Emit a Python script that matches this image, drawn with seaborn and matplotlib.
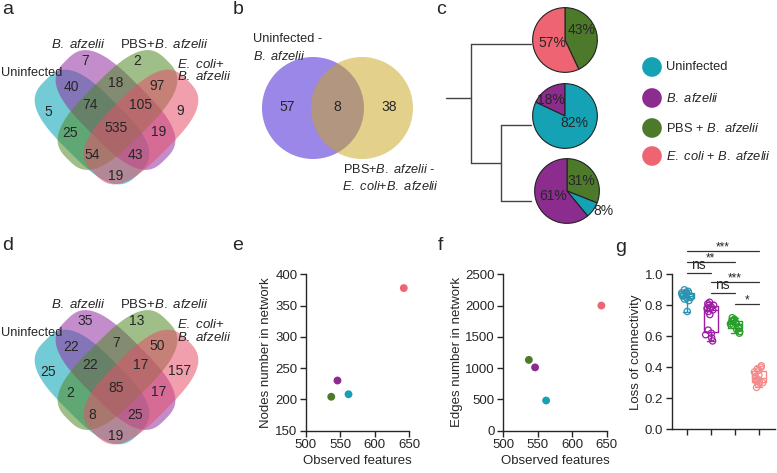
import numpy as np
import pandas as pd
import matplotlib
matplotlib.use("Agg")
import matplotlib.pyplot as plt
from matplotlib.patches import Polygon, Circle
import seaborn as sns

sns.set_style("ticks")
plt.rcParams['font.family'] = ['Liberation Sans', 'DejaVu Sans']
plt.rcParams['mathtext.fontset'] = 'custom'
plt.rcParams['mathtext.rm'] = 'Liberation Sans'
plt.rcParams['mathtext.it'] = 'Liberation Sans:italic'

# ---------------- data ----------------
groups = ["Uninfected", "B. afzelii", "PBS + B. afzelii", "E. coli + B. afzelii"]
pie_colors = ["#14a2b4", "#8c2c8e", "#4c7a2a", "#ee6472"]
venn_colors = ["#00a3b4", "#932fa3", "#508a26", "#e65069"]
box_colors = ["#2a93b3", "#9c1ea3", "#2a9e2a", "#f58a8a"]

# regions: U, B, P, E, UB, BP, PE, UBP, BPE, UP, UBPE, BE, UPE, UBE, UE
venn_a = [5, 7, 2, 9, 40, 18, 97, 74, 105, 25, 535, 19, 54, 43, 19]
venn_d = [25, 35, 13, 157, 22, 7, 50, 22, 17, 2, 85, 17, 8, 25, 19]

venn_b = [57, 8, 38]  # left only, shared, right only

pie_top = [43, 57]        # PBS + B. afzelii, E. coli + B. afzelii
pie_mid = [18, 82]        # B. afzelii, Uninfected
pie_bot = [31, 8, 61]     # PBS + B. afzelii, Uninfected, B. afzelii
dendro_heights = [1.0, 0.5]

observed = [562, 546, 537, 642]
nodes = [208, 230, 204, 378]
edges = [480, 1010, 1130, 2000]

loss_unin = [0.76, 0.83, 0.84, 0.845, 0.85, 0.86, 0.86, 0.865, 0.87, 0.875, 0.88, 0.885, 0.89, 0.90]
loss_baf = [0.57, 0.59, 0.61, 0.62, 0.64, 0.74, 0.76, 0.77, 0.78, 0.78, 0.79, 0.80, 0.80, 0.81, 0.82]
loss_pbs = [0.62, 0.63, 0.645, 0.65, 0.66, 0.67, 0.68, 0.68, 0.69, 0.70, 0.70, 0.705, 0.71, 0.72]
loss_eco = [0.27, 0.29, 0.30, 0.30, 0.31, 0.32, 0.32, 0.33, 0.34, 0.35, 0.37, 0.38, 0.39, 0.40, 0.41]
sig_pairs = [(0, 3, "***"), (0, 2, "**"), (0, 1, "ns"), (1, 3, "***"), (1, 2, "ns"), (2, 3, "*")]

# ---------------- figure ----------------
W, H = 777, 473
fig = plt.figure(figsize=(W / 100, H / 100), dpi=100)
ov = fig.add_axes([0, 0, 1, 1])
ov.set_xlim(0, W)
ov.set_ylim(H, 0)
ov.axis("off")


def px_axes(x0, y0, x1, y1):
    return fig.add_axes([x0 / W, 1 - y1 / H, (x1 - x0) / W, (y1 - y0) / H])


def blob(cx, cy, a, b, ang, n=3.0):
    t = np.linspace(0, 2 * np.pi, 240)
    c, s = np.cos(t), np.sin(t)
    u = a * np.sign(c) * np.abs(c) ** (2 / n)
    v = b * np.sign(s) * np.abs(s) ** (2 / n)
    r = np.radians(ang)
    return np.c_[cx + u * np.cos(r) - v * np.sin(r), cy + u * np.sin(r) + v * np.cos(r)]


# shape layout (pixels) and label spots for a 4-set venn
shapes = [(92, 127, 66, 45), (115.5, 110, 70, 45), (117.5, 110, 70, -45), (141, 127, 66, -45)]
spots = [(48, 112), (85, 61), (137, 61), (180, 111), (71, 87), (116, 83), (157, 86),
         (90, 105), (141, 105), (70, 133), (116, 128), (159, 132), (92, 155), (135, 155), (116, 176)]


def venn4(counts, dy):
    for (cx, cy, a, ang), col in zip(shapes, venn_colors):
        ov.add_patch(Polygon(blob(cx, cy + dy, a, 33.5, ang), closed=True,
                             facecolor=col, edgecolor="none", alpha=0.55))
    for (x, y), n in zip(spots, counts):
        ov.text(x, y + dy, str(n), ha="center", va="center", fontsize=10)
    ov.text(62, 73 + dy, "Uninfected", ha="right", va="center", fontsize=9.2)
    ov.text(78, 44 + dy, r"$\mathit{B.\ afzelii}$", ha="center", va="center", fontsize=9.5)
    ov.text(164, 44 + dy, r"PBS+$\mathit{B.\ afzelii}$", ha="center", va="center", fontsize=9.5)
    ov.text(177, 64 + dy, r"$\mathit{E.\ coli}$+", ha="left", va="center", fontsize=9.5)
    ov.text(177, 77 + dy, r"$\mathit{B.\ afzelii}$", ha="left", va="center", fontsize=9.5)


venn4(venn_a, 0)
venn4(venn_d, 260)

# panel b
ov.add_patch(Circle((313, 108), 51, facecolor="#9b87e8", edgecolor="none"))
ov.add_patch(Circle((362, 108), 51, facecolor="#c9a519", edgecolor="none", alpha=0.5))
for x, n in zip([287, 337, 389], venn_b):
    ov.text(x, 107, str(n), ha="center", va="center", fontsize=10)
ov.text(253, 39, "Uninfected -", ha="left", va="center", fontsize=9.2)
ov.text(253, 56, r"$\mathit{B.\ afzelii}$", ha="left", va="center", fontsize=9.2)
ov.text(389, 169, r"PBS+$\mathit{B.\ afzelii}$ -", ha="center", va="center", fontsize=9.2)
ov.text(390, 186, r"$\mathit{E.\ coli}$+$\mathit{B.\ afzelii}$", ha="center", va="center", fontsize=9.2)

# panel c: dendrogram
leaf_y = [44, 125, 201]
x_leaf = 531
xr = x_leaf - dendro_heights[0] * 60
xi = x_leaf - dendro_heights[1] * 60
inner_y = (leaf_y[1] + leaf_y[2]) / 2
lk = dict(color="#444444", lw=1)
ov.plot([xr, x_leaf], [leaf_y[0], leaf_y[0]], **lk)
ov.plot([xr, xr], [leaf_y[0], inner_y], **lk)
ov.plot([xr, xi], [inner_y, inner_y], **lk)
ov.plot([xi, xi], [leaf_y[1], leaf_y[2]], **lk)
ov.plot([xi, x_leaf], [leaf_y[1], leaf_y[1]], **lk)
ov.plot([xi, x_leaf], [leaf_y[2], leaf_y[2]], **lk)
ov.plot([446, xr], [98, 98], **lk)

pies = [
    ((565, 40), pie_top, [pie_colors[2], pie_colors[3]], False, [(0.5, 0.3), (-0.4, -0.1)]),
    ((565, 116), pie_mid, [pie_colors[1], pie_colors[0]], True, [(-0.45, 0.48), (0.3, -0.22)]),
    ((567, 191), pie_bot, [pie_colors[2], pie_colors[0], pie_colors[1]], False,
     [(0.45, 0.3), (1.12, -0.62), (-0.42, -0.16)]),
]
r = 33
for (cx, cy), vals, cols, ccw, lab in pies:
    pa = px_axes(cx - r, cy - r, cx + r, cy + r)
    pa.pie(vals, colors=cols, startangle=90, counterclock=ccw,
           wedgeprops=dict(edgecolor="#222222", linewidth=0.8))
    pa.set_xlim(-1.02, 1.02)
    pa.set_ylim(-1.02, 1.02)
    for (lx, ly), v in zip(lab, vals):
        pa.text(lx, ly, f"{v}%", ha="center", va="center", fontsize=10, clip_on=False)

legend_y = [67, 98, 128, 156]
legend_txt = ["Uninfected", r"$\mathit{B.\ afzelii}$", r"PBS + $\mathit{B.\ afzelii}$",
              r"$\mathit{E.\ coli}$ + $\mathit{B.\ afzelii}$"]
ov.scatter([652] * 4, legend_y, s=200, c=pie_colors, edgecolors="none")
for y, t in zip(legend_y, legend_txt):
    ov.text(666, y, t, ha="left", va="center", fontsize=9.3)

# panel letters
for t, x, y in [("a", 8, 10), ("b", 238, 9), ("c", 441, 10), ("d", 8, 245),
                ("e", 238, 245), ("f", 440, 245), ("g", 621, 247)]:
    ov.text(x, y, t, ha="center", va="center", fontsize=14)

# panels e and f
sc = pd.DataFrame({"obs": observed, "nodes": nodes, "edges": edges, "grp": groups})
for (x0, col, ylim, ytk, ylab) in [(305.7, "nodes", (150, 400), range(150, 401, 50), "Nodes number in network"),
                                   (503.3, "edges", (0, 2500), range(0, 2501, 500), "Edges number in network")]:
    ax = px_axes(x0, 274.3, x0 + 103.6, 430.5)
    sns.scatterplot(data=sc, x="obs", y=col, hue="grp", palette=pie_colors, s=32,
                    edgecolor="none", legend=False, ax=ax, clip_on=False)
    ax.set_xlim(500, 650)
    ax.set_ylim(*ylim)
    ax.set_xticks([500, 550, 600, 650])
    ax.set_yticks(list(ytk))
    ax.set_xlabel("Observed features", fontsize=9.5, labelpad=3)
    ax.set_ylabel(ylab, fontsize=9.5, labelpad=2)
    sns.despine(ax=ax)
    ax.tick_params(labelsize=9.5, length=4, width=1, pad=2)
    for s in ax.spines.values():
        s.set_linewidth(1)

# panel g
loss = pd.DataFrame({
    "grp": [groups[0]] * len(loss_unin) + [groups[1]] * len(loss_baf)
           + [groups[2]] * len(loss_pbs) + [groups[3]] * len(loss_eco),
    "val": loss_unin + loss_baf + loss_pbs + loss_eco,
})
axg = px_axes(671.7, 274.3, 775.3, 429.3)
np.random.seed(3)
sns.boxplot(data=loss, x="grp", y="val", hue="grp", order=groups, palette=box_colors,
            fill=False, whis=(0, 100), width=0.6, linewidth=1, showfliers=False,
            legend=False, ax=axg)
sns.stripplot(data=loss, x="grp", y="val", hue="grp", order=groups, palette=box_colors,
              jitter=0.22, size=4.5, legend=False, ax=axg)
for coll in axg.collections:
    fc = coll.get_facecolor()
    coll.set_edgecolor(fc)
    coll.set_facecolor("none")
    coll.set_linewidth(0.9)
axg.set_xlim(-0.625, 3.69)
axg.set_ylim(0, 1)
axg.set_yticks([0, 0.2, 0.4, 0.6, 0.8, 1.0])
axg.set_xticks(range(4))
axg.set_xticklabels([""] * 4)
axg.set_xlabel("")
axg.set_ylabel("Loss of connectivity", fontsize=9.5, labelpad=2)
sns.despine(ax=axg)
axg.tick_params(labelsize=9.5, length=4, width=1, pad=2)
for s in axg.spines.values():
    s.set_linewidth(1)
sig_y = [1.148, 1.077, 1.006, 0.948, 0.877, 0.806]
for (i, j, lab), y in zip(sig_pairs, sig_y):
    axg.plot([i, j], [y, y], color="#333333", lw=0.9, clip_on=False)
    if lab == "ns":
        axg.text((i + j) / 2, y + 0.006, lab, ha="center", va="bottom", fontsize=10, clip_on=False)
    else:
        axg.text((i + j) / 2, y - 0.012, lab, ha="center", va="bottom", fontsize=8.5, clip_on=False)

fig.savefig("out.png", dpi=100)
